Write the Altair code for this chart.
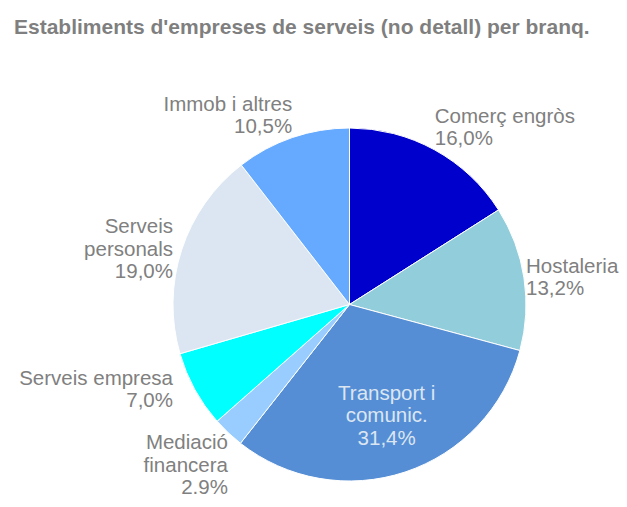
import altair as alt
import pandas as pd

# ---- data ----
categories = ["Comerç engròs", "Hostaleria", "Transport i comunic.", "Mediació financera",
              "Serveis empresa", "Serveis personals", "Immob i altres"]
label_names = ["Comerç engròs", "Hostaleria", "Transport i\ncomunic.", "Mediació\nfinancera",
               "Serveis empresa", "Serveis\npersonals", "Immob i altres"]
values = [16.0, 13.2, 31.4, 2.9, 7.0, 19.0, 10.5]
pct_labels = ["16,0%", "13,2%", "31,4%", "2.9%", "7,0%", "19,0%", "10,5%"]
colors = ["#0000CC", "#92CDDC", "#558ED5", "#99CCFF", "#00FFFF", "#DCE6F2", "#66AAFF"]

df = pd.DataFrame({
    "order": list(range(len(categories))),
    "category": categories,
    "name": label_names,
    "value": values,
    "pct": pct_labels,
    "nlines": [n.count("\n") + 2 for n in label_names],
})

# ---- layout ----
W, H = 611, 451
PAD_TOP = 40
CX, CY = 341.5, 256.5      # pie centre inside the view
R = 176.5                  # pie radius
R_OUT = 177                # anchor radius for outside labels
R_SIDE = 176.5             # side labels sit at the pie's left/right edge
R_IN = 118                 # radius for inside labels
FONT = "Liberation Sans"
FS = 20.5
LH = 22.5
GRAY = "#808080"

base = alt.Chart(df)

pie = base.mark_arc(outerRadius=R, stroke="white", strokeWidth=1).encode(
    theta=alt.Theta("value:Q", stack=True),
    order=alt.Order("order:Q"),
    color=alt.Color("category:N", scale=alt.Scale(domain=categories, range=colors), legend=None),
    x=alt.value(CX),
    y=alt.value(CY),
)

lab = base.transform_joinaggregate(total="sum(value)").transform_window(
    cum="sum(value)", sort=[alt.SortField("order")], frame=[None, 0]
).transform_calculate(
    mid="(datum.cum - datum.value/2) / datum.total * 2 * PI",
    middeg="(datum.cum - datum.value/2) / datum.total * 360",
    txt="datum.name + '\\n' + datum.pct",
    inside="datum.value > 25",
)

SHIFT = {"top": 0.0, "middle": 0.5, "bottom": 1.0}


def text_layer(cond, align, baseline, radius, color, side=False):
    k = SHIFT[baseline]
    if side:
        lx = f"{CX} + (sin(datum.mid) > 0 ? 1 : -1) * {R_SIDE}"
    else:
        lx = f"{CX} + {radius} * sin(datum.mid)"
    return lab.transform_filter(cond).transform_calculate(
        lx=lx,
        ly=f"{CY} - {radius} * cos(datum.mid) - {k} * (datum.nlines - 1) * {LH}",
    ).mark_text(
        align=align, baseline=baseline, font=FONT, fontSize=FS, lineBreak="\n",
        lineHeight=LH, color=color,
    ).encode(
        x=alt.X("lx:Q", scale=None),
        y=alt.Y("ly:Q", scale=None),
        text="txt:N",
    )


layers = [pie]
layers.append(text_layer("datum.inside", "center", "middle", R_IN, "#DCE6F2"))
sectors = [
    (0, 60, "left", "bottom"),
    (60, 120, "left", "middle"),
    (120, 180, "left", "top"),
    (180, 240, "right", "top"),
    (240, 300, "right", "middle"),
    (300, 360, "right", "bottom"),
]
for lo, hi, al, bl in sectors:
    cond = f"!datum.inside && datum.middeg >= {lo} && datum.middeg < {hi}"
    layers.append(text_layer(cond, al, bl, R_OUT, GRAY, side=(bl == "middle")))

chart = alt.layer(*layers).properties(
    width=W,
    height=H,
    autosize=alt.AutoSizeParams(type="none"),
    padding={"left": 0, "top": PAD_TOP, "right": 0, "bottom": 0},
    title=alt.TitleParams(
        "Establiments d'empreses de serveis (no detall) per branq.",
        anchor="start", frame="group", orient="top", fontSize=21, fontWeight="bold",
        font=FONT, color="#7F7F7F", dx=6, offset=10,
    ),
).configure_view(stroke=None, clip=False)

chart.save("out.html", embed_options={"renderer": "svg", "actions": False})
